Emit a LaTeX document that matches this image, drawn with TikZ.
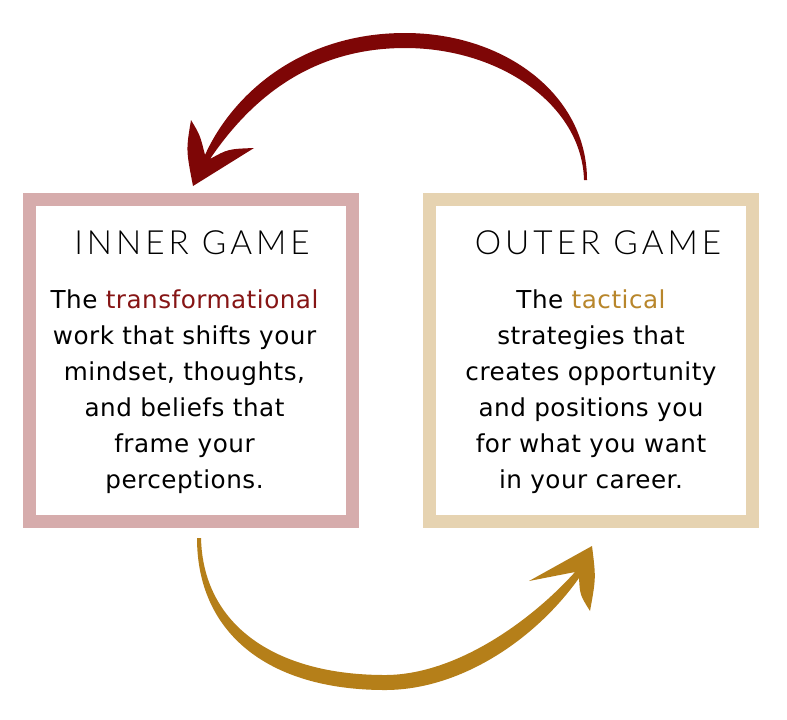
\documentclass[tikz,border=0pt]{standalone}
\usepackage{fontspec}
\setmainfont{DejaVu Sans}
\newfontfamily\bodyfont{DejaVu Sans}[LetterSpace=2]
\IfFontExistsTF{Lato Light}{\newfontfamily\headfont{Lato Light}[LetterSpace=12]}{\newfontfamily\headfont{Lato}[LetterSpace=12]}
\definecolor{pinkb}{HTML}{D6ACAC}
\definecolor{tanb}{HTML}{E6D3B1}
\definecolor{darkred}{HTML}{7E0606}
\definecolor{goldc}{HTML}{B57F19}
\definecolor{transc}{HTML}{861515}
\definecolor{tactc}{HTML}{B8862B}
\tikzset{
  gamebox/.style={draw, line width=9.75pt, fill=white, inner sep=0pt},
  headtext/.style={font=\headfont\fontsize{25pt}{30pt}\selectfont, inner sep=0pt, anchor=base},
  bodytext/.style={font=\bodyfont\fontsize{18.5pt}{27pt}\selectfont, inner sep=0pt, align=center, anchor=north},
}
\begin{document}
\begin{tikzpicture}[x=0.75pt,y=-0.75pt]
\useasboundingbox (0,0) rectangle (787,719);
% boxes
\node[gamebox, draw=pinkb, minimum width=242.25pt, minimum height=241.5pt] (innerbox) at (191,360.5) {};
\node[gamebox, draw=tanb, minimum width=241.9pt, minimum height=241.5pt] (outerbox) at (591.25,360.5) {};
% headings
\node[headtext] (innerhead) at (192,254) {INNER GAME};
\node[headtext] (outerhead) at (598,254) {OUTER GAME};
% body texts
\node[bodytext] (innerbody) at (184.5,289) {The \textcolor{transc}{transformational}\\work that shifts your\\mindset, thoughts,\\and beliefs that\\frame your\\perceptions.};
\node[bodytext] (outerbody) at (591,289) {The \textcolor{tactc}{tactical}\\strategies that\\creates opportunity\\and positions you\\for what you want\\in your career.};
% top arrow (outer game -> inner game)
\fill[darkred] (587,180) .. controls (587,95) and (505,33) .. (405,33)
  .. controls (300,33) and (232,95) .. (205,155)
  .. controls (200,135) .. (191,120)
  .. controls (186,150) .. (193,186)
  -- (254,148)
  .. controls (228,149) .. (210,159)
  .. controls (250,100) and (310,48) .. (405,48)
  .. controls (500,48) and (582,105) .. (584,180) -- cycle;
% bottom arrow (inner game -> outer game)
\fill[goldc] (197,538) .. controls (197,633) and (268,690) .. (385,690)
  .. controls (460,690) and (535,640) .. (579,578)
  .. controls (580,595) .. (590,611)
  .. controls (596,578) .. (592,546)
  -- (529,581)
  .. controls (552,576) .. (575,572)
  .. controls (530,622) and (455,675) .. (385,675)
  .. controls (275,675) and (203,625) .. (201,538) -- cycle;
\end{tikzpicture}
\end{document}
